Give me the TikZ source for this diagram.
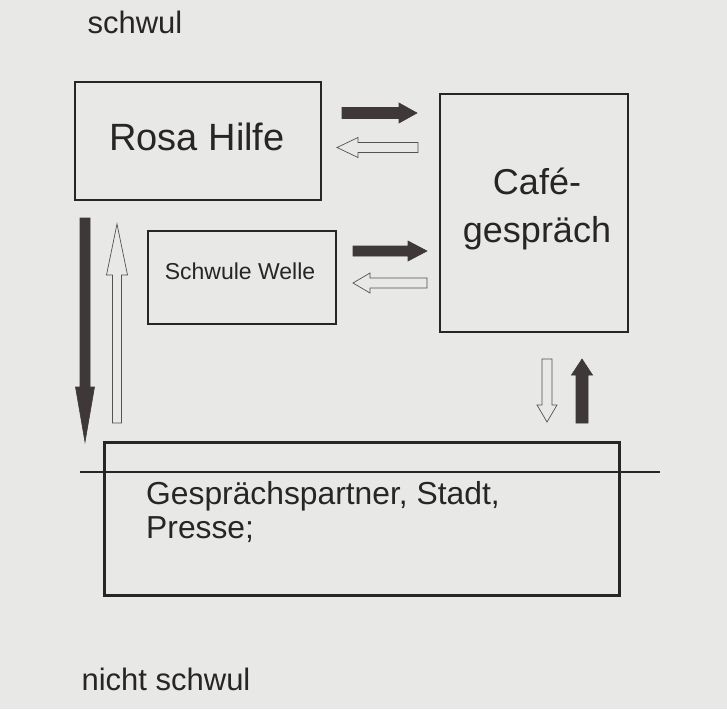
\documentclass[tikz,border=0pt]{standalone}
\usepackage{fontspec}
\setmainfont{Liberation Sans}
\definecolor{paper}{RGB}{232,232,230}
\definecolor{ink}{RGB}{40,37,37}
\definecolor{darkarrow}{RGB}{62,56,56}
\newcommand\blockarr[7]{% style, start, rotation, length, head length, shaft half, head half
  \begin{scope}[shift={#2}, rotate=#3]
    \draw[#1] (0,-#6) -- ({#4-#5},-#6) -- ({#4-#5},-#7) -- (#4,0) -- ({#4-#5},#7) -- ({#4-#5},#6) -- (0,#6) -- cycle;
  \end{scope}}
\begin{document}
\begin{tikzpicture}[x=1pt,y=-1pt,
  box/.style={draw=ink, line width=2.8pt, rectangle, inner sep=0pt},
  lbl/.style={text=ink, inner sep=0pt, align=center},
  filledarr/.style={fill=darkarrow, draw=darkarrow, line width=0.6pt, line join=miter},
  hollowarr/.style={fill=paper, draw=ink!80, line width=0.7pt, line join=miter}]
\fill[paper] (0,0) rectangle (727,709);
\useasboundingbox (0,0) rectangle (727,709);

\node[lbl, font=\fontsize{31}{36}\selectfont] (top) at (135,22) {schwul};
\node[lbl, font=\fontsize{31}{36}\selectfont] (bot) at (166,679) {nicht schwul};

\node[box, minimum width=246pt, minimum height=118pt] (rosa) at (198,141) {};
\node[lbl, font=\fontsize{38}{44}\selectfont] (rosat) at (197,137) {Rosa Hilfe};

\node[box, minimum width=188pt, minimum height=238pt] (cafe) at (534,213) {};
\node[lbl, font=\fontsize{36}{48}\selectfont] (cafet) at (537,209) {Café-\\gespräch};

\node[box, minimum width=188pt, minimum height=93pt] (welle) at (242,277.5) {};
\node[lbl, font=\fontsize{23}{28}\selectfont] (wellet) at (240,271) {Schwule Welle};

\node[box, minimum width=515pt, minimum height=153pt] (partner) at (362,519) {};
\node[lbl, align=left, anchor=north west, font=\fontsize{31.8}{34}\selectfont] (partnert) at (146,481) {Gesprächspartner, Stadt,\\Presse;};

\coordinate (lineL) at (80,472);
\coordinate (lineR) at (660,472);
\draw[ink, line width=2.8pt] (lineL) -- (lineR);

\blockarr{filledarr}{(342,113)}{0}{75}{18}{5.5}{10}
\blockarr{hollowarr}{(418,147.5)}{180}{81}{21}{5}{10}
\blockarr{filledarr}{(353,251)}{0}{74}{19}{5}{10}
\blockarr{hollowarr}{(427,283)}{180}{74}{17}{5}{10}
\blockarr{filledarr}{(85,218)}{270}{224}{55}{5}{9.5}
\blockarr{hollowarr}{(117,423)}{90}{199}{51}{4.5}{10.5}
\blockarr{hollowarr}{(547,359)}{270}{63}{17}{5}{10}
\blockarr{filledarr}{(582,423)}{90}{64}{16}{6}{10.5}
\end{tikzpicture}
\end{document}
